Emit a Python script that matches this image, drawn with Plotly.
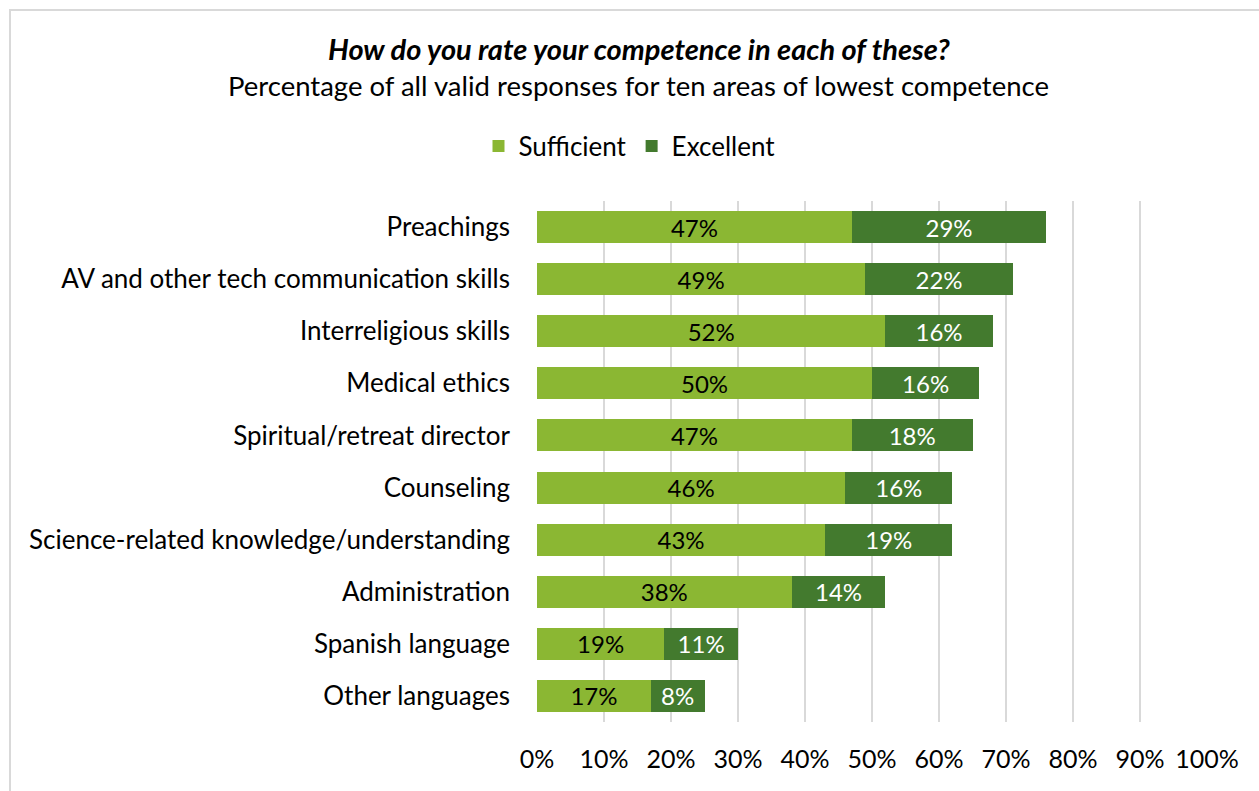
import plotly.graph_objects as go

categories = ["Preachings", "AV and other tech communication skills", "Interreligious skills",
              "Medical ethics", "Spiritual/retreat director", "Counseling",
              "Science-related knowledge/understanding", "Administration",
              "Spanish language", "Other languages"]
sufficient = [47, 49, 52, 50, 47, 46, 43, 38, 19, 17]
excellent = [29, 22, 16, 16, 18, 16, 19, 14, 11, 8]
tick_vals = [0, 10, 20, 30, 40, 50, 60, 70, 80, 90, 100]
tick_text = [f"{v}%" for v in tick_vals]

FONT = "Lato"
W, H = 1259, 791
L, R, T, B = 537, 52, 201, 69
pw, ph = W - L - R, H - T - B

def px_to_paper_x(px):
    return (px - L) / pw

def px_to_paper_y(py):
    return (H - B - py) / ph

fig = go.Figure()
fig.add_trace(go.Bar(
    y=categories, x=sufficient, name="Sufficient", orientation="h",
    marker=dict(color="#8bb733", line=dict(width=0)),
    text=[f"{v}%" for v in sufficient], textposition="inside", insidetextanchor="middle",
    constraintext="none",
    textfont=dict(color="black", size=24, family=FONT),
))
fig.add_trace(go.Bar(
    y=categories, x=excellent, name="Excellent", orientation="h",
    marker=dict(color="#437a2e", line=dict(width=0)),
    text=[f"{v}%" for v in excellent], textposition="inside", insidetextanchor="middle",
    constraintext="none",
    textfont=dict(color="white", size=24, family=FONT),
))

fig.update_layout(
    width=W, height=H, barmode="stack", bargap=0.385,
    margin=dict(l=L, r=R, t=T, b=B, pad=0),
    paper_bgcolor="white", plot_bgcolor="white",
    font=dict(family=FONT, size=26, color="black"),
    showlegend=True,
    legend=dict(orientation="h", x=0.5, xref="container", xanchor="center",
                y=1 - 146 / H, yref="container", yanchor="middle",
                font=dict(size=26, family=FONT), traceorder="normal",
                itemwidth=30, itemsizing="constant"),
    xaxis=dict(range=[0, 100], tickvals=tick_vals, ticktext=tick_text,
               showgrid=True, gridcolor="#d9d9d9", gridwidth=2, zeroline=False,
               showline=False, ticks="", ticklabelstandoff=20,
               tickfont=dict(size=25, family=FONT, color="black"), fixedrange=True),
    yaxis=dict(autorange="reversed", showgrid=False, zeroline=False, showline=False,
               ticks="", ticklabelstandoff=26,
               tickfont=dict(size=26, family=FONT, color="black")),
)

fig.add_annotation(text="<b><i>How do you rate your competence in each of these?</i></b>",
                   xref="paper", yref="paper", x=px_to_paper_x(639), y=px_to_paper_y(48),
                   showarrow=False, font=dict(size=29, family=FONT, color="black"),
                   xanchor="center", yanchor="middle")
fig.add_annotation(text="Percentage of all valid responses for ten areas of lowest competence",
                   xref="paper", yref="paper", x=px_to_paper_x(638), y=px_to_paper_y(85),
                   showarrow=False, font=dict(size=27.5, family=FONT, color="black"),
                   xanchor="center", yanchor="middle")

fig.add_shape(type="rect", xref="paper", yref="paper",
              x0=px_to_paper_x(10), x1=px_to_paper_x(1300),
              y0=px_to_paper_y(830), y1=px_to_paper_y(10),
              line=dict(color="#d9d9d9", width=2), fillcolor="rgba(0,0,0,0)", layer="below")

fig.write_html("out.html")
